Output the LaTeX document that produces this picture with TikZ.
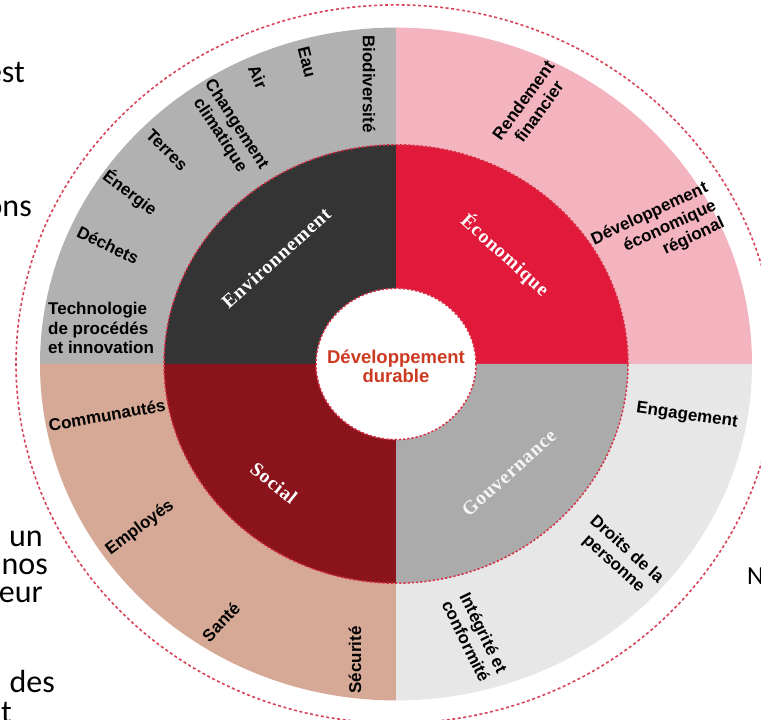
\documentclass[tikz,border=0pt]{standalone}
\usepackage{fontspec}
\setmainfont{Liberation Sans}
\newfontfamily\labfont{Liberation Sans}
\newfontfamily\serfont[LetterSpace=4]{Liberation Serif}
\newfontfamily\bgfont{Carlito}
\definecolor{envout}{HTML}{B1B1B1}
\definecolor{envin}{HTML}{343434}
\definecolor{ecoout}{HTML}{F3B3BF}
\definecolor{ecoin}{HTML}{E1193A}
\definecolor{socout}{HTML}{D5A996}
\definecolor{socin}{HTML}{8B141C}
\definecolor{govout}{HTML}{E7E7E7}
\definecolor{govin}{HTML}{ABABAB}
\definecolor{dashred}{HTML}{D8435A}
\definecolor{innerdash}{HTML}{D92F45}
\definecolor{centertxt}{HTML}{CC3A22}
\tikzset{
  lab/.style={font={\labfont\bfseries\fontsize{17}{19.5}\selectfont}, align=center, inner sep=0pt, text=black},
  inlab/.style={font={\serfont\bfseries\fontsize{19.5}{22}\selectfont}, inner sep=0pt, text=white},
  bgtxt/.style={font={\bgfont\fontsize{32}{34}\selectfont}, inner sep=0pt, anchor=base east, text=black},
}
\begin{document}
\begin{tikzpicture}[x=1pt,y=1pt]
\useasboundingbox (0,0) rectangle (761,720);
\fill[white] (0,0) rectangle (761,720);
\coordinate (C) at (396,356);
% background text fragments
\node[bgtxt] (t1) at (25,637) {est};
\node[bgtxt] (t2) at (32,503) {ons};
\node[bgtxt] (t3) at (43,173) {un};
\node[bgtxt] (t4) at (48,145) {nos};
\node[bgtxt] (t5) at (43,117) {eur};
\node[bgtxt] (t6) at (55,27) {des};
\node[bgtxt] (t7) at (12,-3) {t};
\node[bgtxt, font={\bgfont\fontsize{26}{28}\selectfont}, anchor=base west] (t8) at (747,135) {N};
% wheel
\begin{scope}[shift={(C)}, yscale=0.945]
  \fill[envout] (0,0) -- (180:356) arc[start angle=180,end angle=90,radius=356] -- cycle;
  \fill[ecoout] (0,0) -- (90:356) arc[start angle=90,end angle=0,radius=356] -- cycle;
  \fill[socout] (0,0) -- (270:356) arc[start angle=270,end angle=180,radius=356] -- cycle;
  \fill[govout] (0,0) -- (360:356) arc[start angle=360,end angle=270,radius=356] -- cycle;
  \fill[envin] (0,0) -- (180:232) arc[start angle=180,end angle=90,radius=232] -- cycle;
  \fill[ecoin] (0,0) -- (90:232) arc[start angle=90,end angle=0,radius=232] -- cycle;
  \fill[socin] (0,0) -- (270:232) arc[start angle=270,end angle=180,radius=232] -- cycle;
  \fill[govin] (0,0) -- (360:232) arc[start angle=360,end angle=270,radius=232] -- cycle;
  \draw[innerdash, line width=1.5pt, dash pattern=on 2.2pt off 2pt] (0,0) circle[radius=232];
  \filldraw[fill=white, draw=innerdash, line width=1.5pt, dash pattern=on 2.2pt off 2pt] (0,0) circle[radius=80];
  \draw[dashred, line width=1.6pt, dash pattern=on 3pt off 2.5pt] (0,0) circle[radius=380];
\end{scope}
% center
\node[font={\labfont\bfseries\fontsize{18.5}{19}\selectfont}, text=centertxt, align=center, inner sep=0pt] (dd) at (396,354) {Développement\\durable};
% inner labels
\node[inlab, rotate=42] (env) at (276,462) {Environnement};
\node[inlab, rotate=-42] (eco) at (505,465) {Économique};
\node[inlab, rotate=-39] (soc) at (274,237) {Social};
\node[inlab, rotate=42, text=white!92!gray] (gov) at (509,247) {Gouvernance};
% environment outer labels
\node[lab, rotate=-90] (bio) at (369,636) {Biodiversité};
\node[lab, rotate=-76] (eau) at (307,658) {Eau};
\node[lab, rotate=-66] (air) at (258,643) {Air};
\node[lab, rotate=-57] (clim) at (228,590) {Changement\\climatique};
\node[lab, rotate=-45] (ter) at (167,570) {Terres};
\node[lab, rotate=-37] (ene) at (130,527) {Énergie};
\node[lab, rotate=-26] (dec) at (108,475) {Déchets};
\node[lab, align=left, anchor=west] (tech) at (48,392) {Technologie\\de procédés\\et innovation};
% economic outer labels
\node[lab, rotate=54] (rend) at (531,614) {Rendement\\financier};
\node[lab, rotate=25, align=right] (dev) at (658,488) {Développement\\économique\\régional};
% social outer labels
\node[lab, rotate=10] (com) at (107,305) {Communautés};
\node[lab, rotate=37] (emp) at (140,192) {Employés};
\node[lab, rotate=47] (san) at (221,98) {Santé};
\node[lab, rotate=90] (sec) at (355,60) {Sécurité};
% governance outer labels
\node[lab, rotate=-8] (eng) at (687,304) {Engagement};
\node[lab, rotate=-42] (dro) at (620,163) {Droits de la\\personne};
\node[lab, rotate=-64] (int) at (475,83) {Intégrité et\\conformité};
\end{tikzpicture}
\end{document}
